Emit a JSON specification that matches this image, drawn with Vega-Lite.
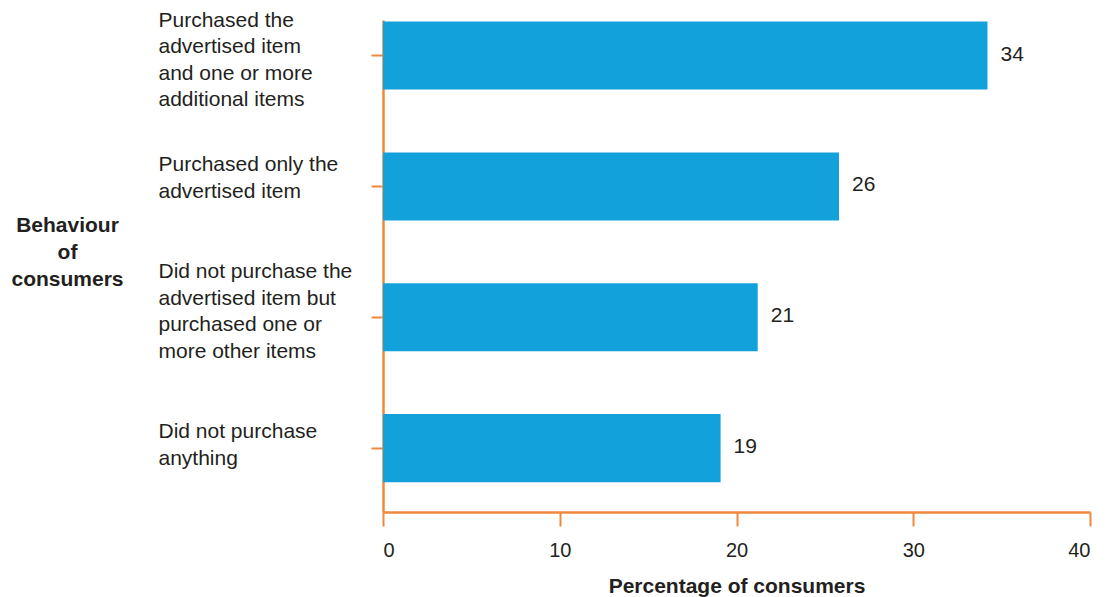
{
  "$schema": "https://vega.github.io/schema/vega-lite/v6.json",
  "width": 707,
  "height": 492,
  "autosize": "none",
  "padding": {"left": 383, "top": 20, "right": 23, "bottom": 85},
  "background": "white",
  "config": {
    "view": {"stroke": null},
    "font": "Liberation Sans",
    "text": {"font": "Liberation Sans"}
  },
  "data": {
    "values": [
      {"behaviour": "Purchased the|advertised item|and one or more|additional items", "pct": 34.2, "label": "34"},
      {"behaviour": "Purchased only the|advertised item", "pct": 25.8, "label": "26"},
      {"behaviour": "Did not purchase the|advertised item but|purchased one or|more other items", "pct": 21.2, "label": "21"},
      {"behaviour": "Did not purchase|anything", "pct": 19.1, "label": "19"}
    ]
  },
  "encoding": {
    "y": {
      "field": "behaviour",
      "type": "nominal",
      "sort": null,
      "scale": {"paddingInner": 0.48, "paddingOuter": 0.12, "align": 0.05},
      "axis": {
        "title": ["Behaviour", "of", "consumers"],
        "titleAngle": 0,
        "titleX": -316,
        "titleY": 205,
        "titleAlign": "center",
        "titleBaseline": "middle",
        "titleFontSize": 21,
        "titleFontWeight": "bold",
        "titleLineHeight": 27,
        "titleColor": "#231f20",
        "domainColor": "#f0883c",
        "domainWidth": 2.5,
        "tickColor": "#f0883c",
        "tickWidth": 2,
        "tickSize": 12,
        "labelAlign": "left",
        "labelBaseline": "middle",
        "labelPadding": 213,
        "labelLimit": 240,
        "labelFontSize": 21,
        "labelLineHeight": 26.5,
        "labelColor": "#231f20",
        "labelExpr": "split(datum.label, '|')",
        "labelOffset": {
          "condition": [
            {"test": "indexof(datum.value, 'Purchased the') == 0", "value": -35},
            {"test": "indexof(datum.value, 'Purchased only') == 0", "value": -21},
            {"test": "indexof(datum.value, 'Did not purchase the') == 0", "value": -45}
          ],
          "value": -16
        }
      }
    },
    "x": {
      "field": "pct",
      "type": "quantitative",
      "scale": {"domain": [0, 40], "nice": false},
      "axis": {
        "title": "Percentage of consumers",
        "values": [0, 10, 20, 30, 40],
        "grid": false,
        "domainColor": "#f0883c",
        "domainWidth": 2.5,
        "tickColor": "#f0883c",
        "tickWidth": 2,
        "tickSize": 14,
        "labelPadding": 14,
        "labelFontSize": 20,
        "labelColor": "#231f20",
        "titleFontSize": 21,
        "titleFontWeight": "bold",
        "titleColor": "#231f20",
        "titlePadding": 15
      }
    }
  },
  "layer": [
    {"mark": {"type": "bar", "color": "#13a1db"}},
    {
      "mark": {"type": "text", "align": "left", "baseline": "middle", "dx": 13, "dy": -1, "fontSize": 21, "color": "#231f20"},
      "encoding": {"text": {"field": "label"}}
    }
  ]
}
